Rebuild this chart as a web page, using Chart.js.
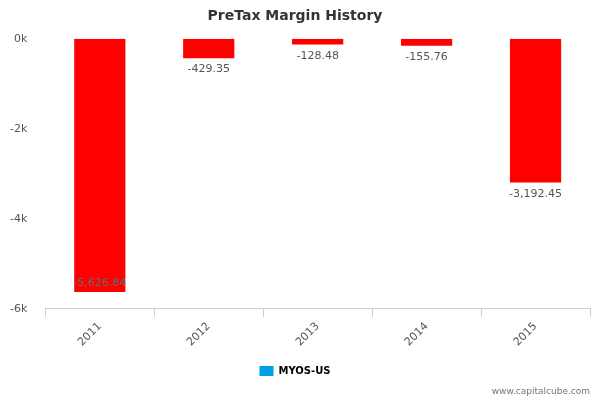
<!DOCTYPE html>
<html><head><meta charset="utf-8">
<script src="https://cdn.jsdelivr.net/npm/chart.js@4/dist/chart.umd.min.js"></script>
<style>body{margin:0;background:#fff}</style>
</head><body><canvas id="c" width="600" height="400"></canvas>
<script>
const categories = ['2011','2012','2013','2014','2015'];
const values = [-5626.84,-429.35,-128.48,-155.76,-3192.45];
const yTicks = [0,-2000,-4000,-6000];
const seriesName = 'MYOS-US';
const fmt = v => v.toLocaleString('en-US',{minimumFractionDigits:2,maximumFractionDigits:2});
const labels = {id:'labels',afterDatasetsDraw(ch){
  const ctx=ch.ctx; const meta=ch.getDatasetMeta(0);
  ctx.save(); ctx.font='11px "DejaVu Sans"'; ctx.textAlign='center'; ctx.textBaseline='top';
  meta.data.forEach((b,i)=>{
    let y=b.y+6; let col='#555';
    if(y+12>ch.chartArea.bottom){y=b.y-14;col='#607070';}
    ctx.fillStyle=col; ctx.fillText(fmt(values[i]),b.x,y);
  });
  ctx.font='9px "DejaVu Sans"'; ctx.textAlign='right'; ctx.fillStyle='#777';
  ctx.fillText('www.capitalcube.com',590,387);
  ctx.restore();
}};
new Chart(document.getElementById('c'),{type:'bar',
 data:{labels:categories,datasets:[{label:seriesName,data:values,backgroundColor:'#ff0000',barPercentage:0.47,categoryPercentage:1}]},
 plugins:[labels],
 options:{responsive:false,animation:false,devicePixelRatio:1,
  layout:{padding:{left:0,right:10,top:0,bottom:14}},
  plugins:{title:{display:true,text:'PreTax Margin History',font:{family:'DejaVu Sans',size:14,weight:'bold'},color:'#333',padding:{top:8,bottom:14}},
   legend:{position:'bottom',labels:{boxWidth:14,boxHeight:10,padding:14,font:{family:'DejaVu Sans',size:10,weight:'bold'},color:'#333',
     generateLabels:()=>[{text:seriesName,fillStyle:'#00a0e8',strokeStyle:'#00a0e8',lineWidth:0}]}},
   tooltip:{enabled:false}},
  scales:{x:{grid:{display:true,drawOnChartArea:false,offset:true,color:'#c0d0e0',tickLength:8},border:{color:'#c0d0e0'},
     ticks:{maxRotation:45,minRotation:45,font:{family:'DejaVu Sans',size:11},color:'#555'}},
   y:{min:-6000,max:0,afterBuildTicks:a=>{a.ticks=yTicks.map(v=>({value:v}));},grid:{display:false},border:{display:false},
     ticks:{callback:v=>(v/1000)+'k',font:{family:'DejaVu Sans',size:11},color:'#555',padding:10}}}}
});
</script></body></html>
